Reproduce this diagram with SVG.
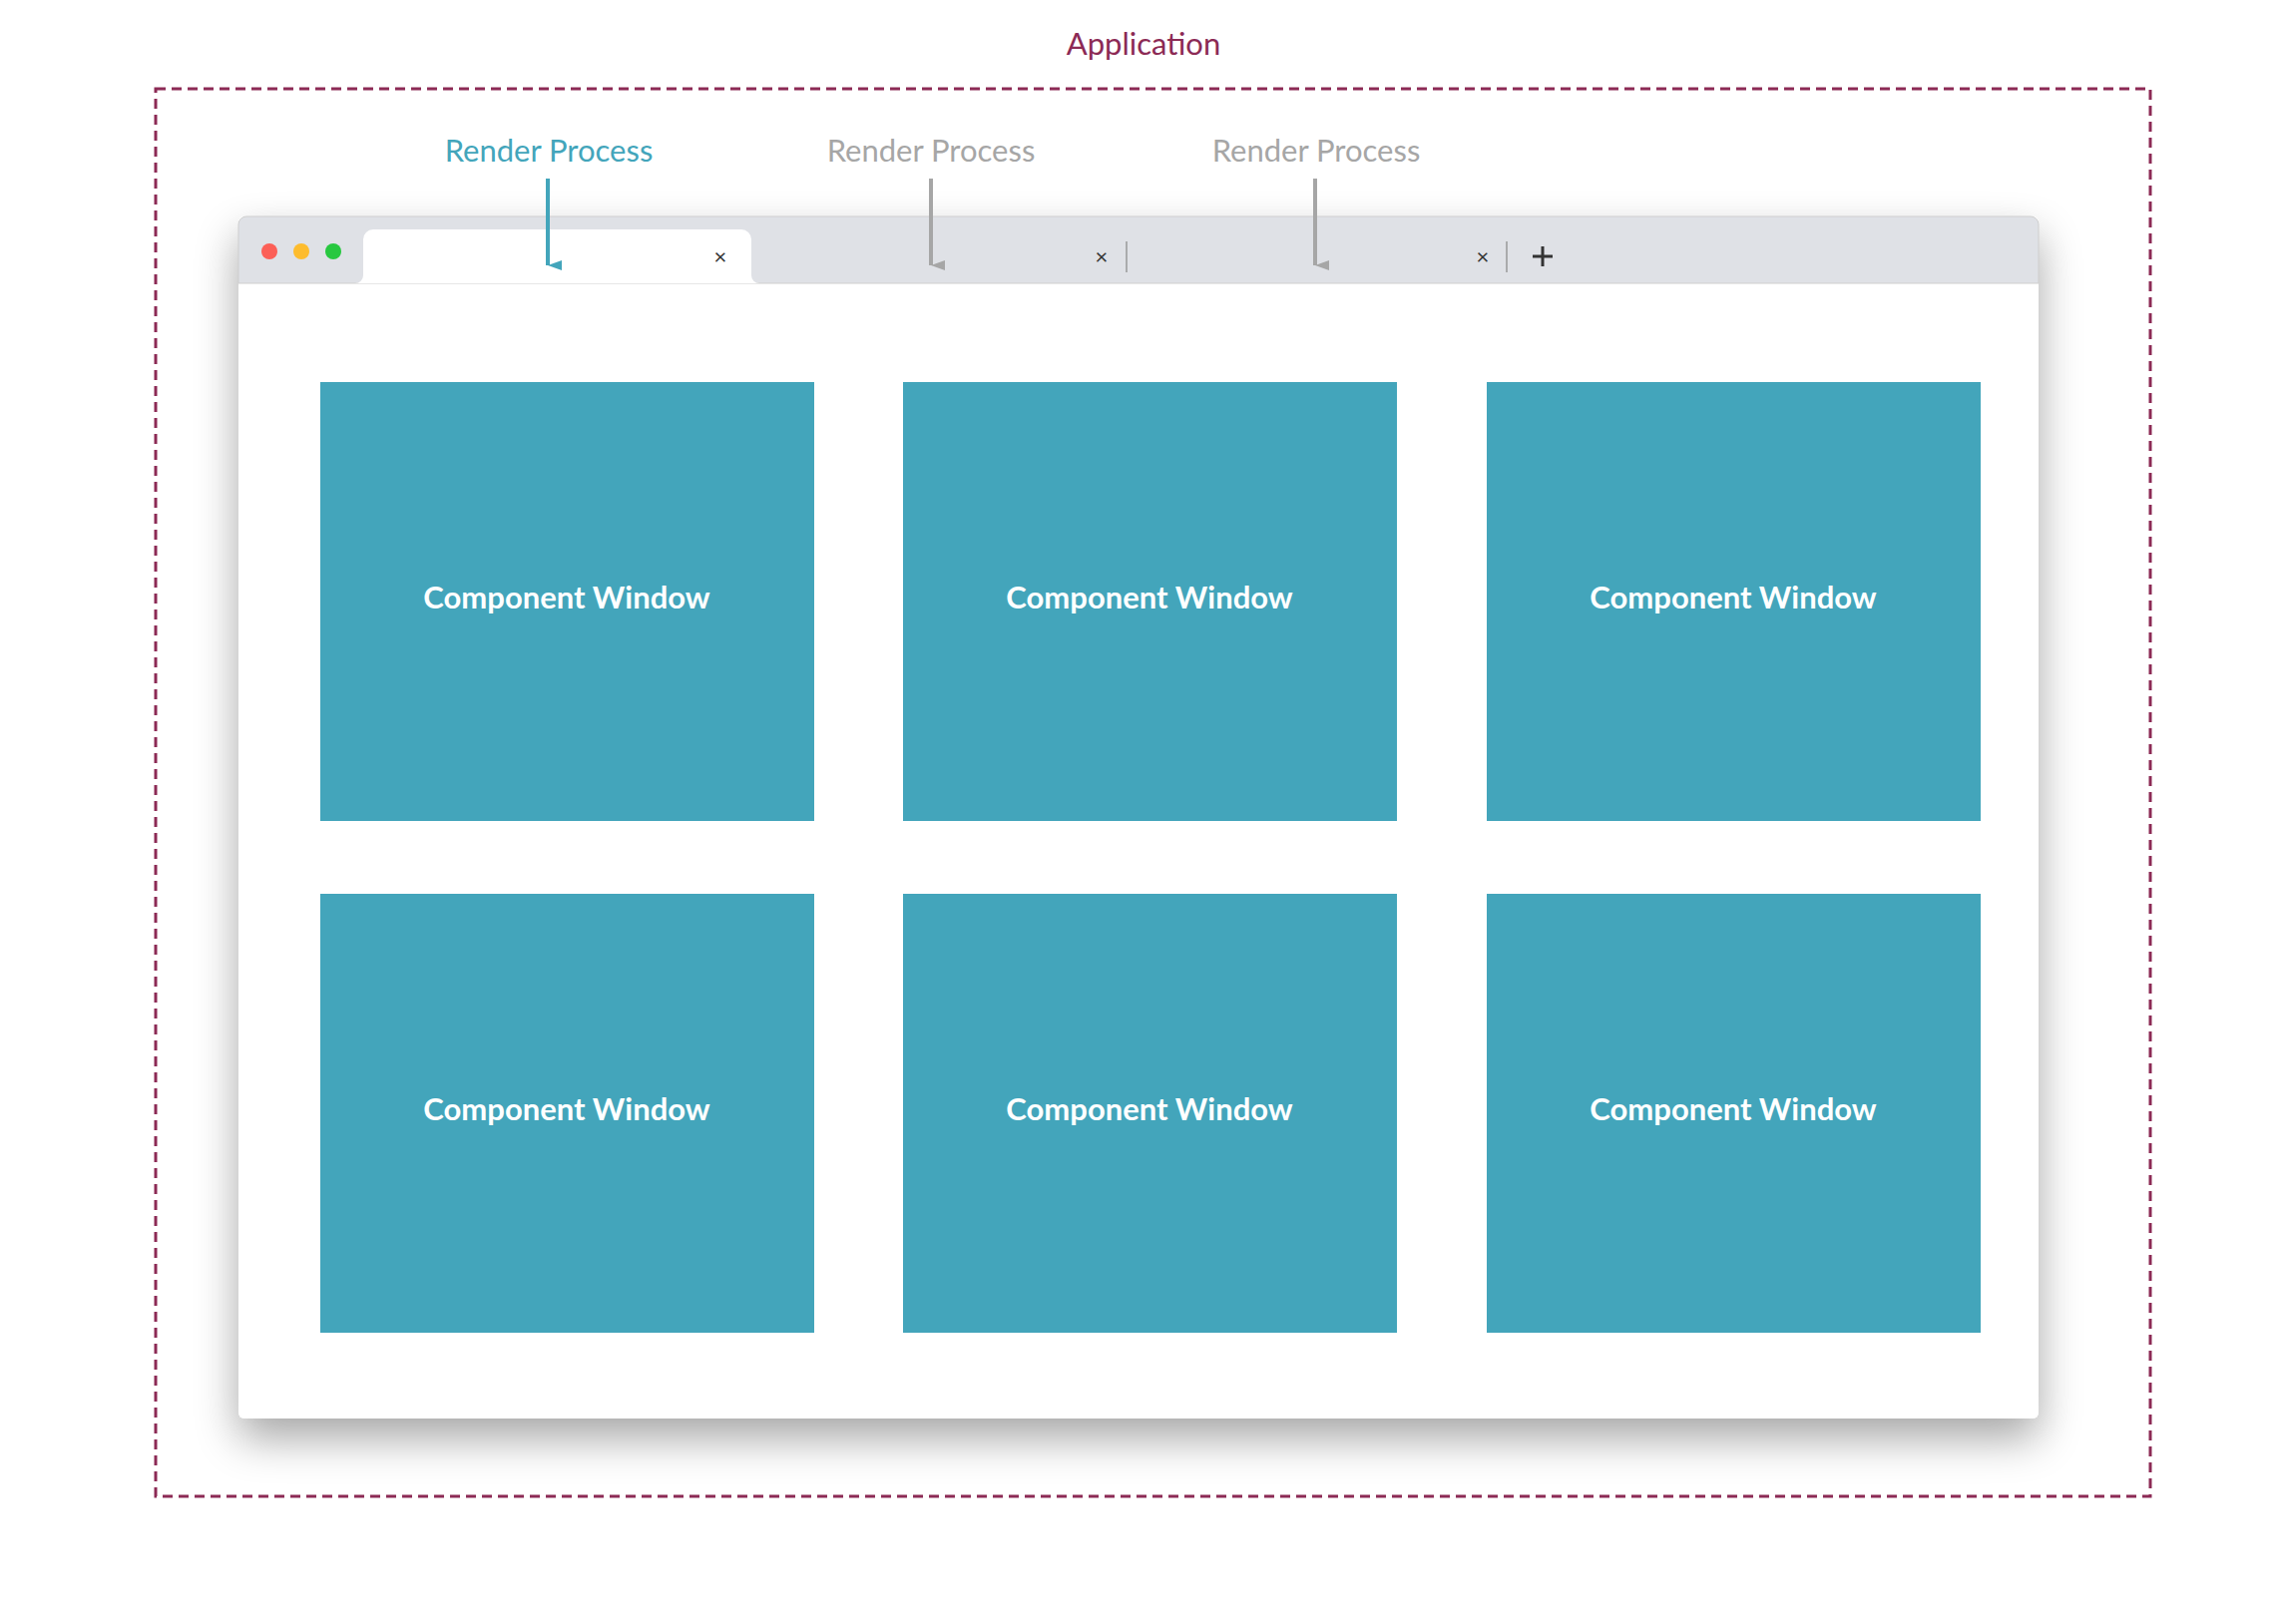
<svg xmlns="http://www.w3.org/2000/svg" width="2290" height="1628" viewBox="0 0 2290 1628">
<defs>
<filter id="sh" x="-10%" y="-10%" width="120%" height="125%"><feGaussianBlur in="SourceAlpha" stdDeviation="22"/><feOffset dy="20"/><feComponentTransfer><feFuncA type="linear" slope="0.35"/></feComponentTransfer><feMerge><feMergeNode/><feMergeNode in="SourceGraphic"/></feMerge></filter>
<marker id="ab" markerWidth="10" markerHeight="14" refX="5" refY="14" orient="auto" markerUnits="userSpaceOnUse" viewBox="0 0 10 14"><path d="M0,0 L10,0 L5,14 Z" fill="#43a5bb"/></marker>
<marker id="ag" markerWidth="10" markerHeight="14" refX="5" refY="14" orient="auto" markerUnits="userSpaceOnUse" viewBox="0 0 10 14"><path d="M0,0 L10,0 L5,14 Z" fill="#a6a6a6"/></marker>
</defs>
<style>
text{font-family:Lato,"Open Sans",sans-serif}
.lbl{font-size:31px;text-anchor:middle}
.cw{fill:#43a5bb}
.cwt{fill:#fff;font-size:31px;font-weight:bold;text-anchor:middle}
.x{font-size:22px;fill:#333;text-anchor:middle}
</style>
<g id="application">
<rect x="156" y="89" width="1999" height="1411" fill="none" stroke="#8c2a55" stroke-width="3" stroke-dasharray="10,6"/>
<text class="lbl" x="1146" y="55" fill="#8c2a55">Application</text>
</g>
<g id="browser">
<rect x="239" y="217" width="1804" height="1205" rx="6" fill="#fff" filter="url(#sh)"/>
<path d="M239,284 V225 a8,8 0 0 1 8,-8 H2035 a8,8 0 0 1 8,8 V284 Z" fill="#dfe1e6" stroke="#cfcfcf" stroke-width="1"/>
<path d="M356,284 a8,8 0 0 0 8,-8 V240 a10,10 0 0 1 10,-10 H743 a10,10 0 0 1 10,10 V276 a8,8 0 0 0 8,8 Z" fill="#fff"/>
<circle cx="270" cy="252" r="8" fill="#fc5f57"/>
<circle cx="302" cy="252" r="8" fill="#fdbc2e"/>
<circle cx="334" cy="252" r="8" fill="#28c840"/>
<text class="x" x="722" y="265">×</text>
<text class="x" x="1104" y="265">×</text>
<text class="x" x="1486" y="265">×</text>
<line x1="1129" y1="242" x2="1129" y2="273" stroke="#999" stroke-width="1.5"/>
<line x1="1510" y1="242" x2="1510" y2="273" stroke="#999" stroke-width="1.5"/>
<path d="M1546,247 v20 M1536,257 h20" stroke="#333" stroke-width="3"/>
</g>
<g id="labels">
<text class="lbl" x="550" y="162" fill="#43a5bb">Render Process</text>
<text class="lbl" x="933" y="162" fill="#a6a6a6">Render Process</text>
<text class="lbl" x="1319" y="162" fill="#a6a6a6">Render Process</text>
</g>
<g id="connectors">
<line x1="549" y1="179" x2="549" y2="266" stroke="#43a5bb" stroke-width="4" marker-end="url(#ab)"/>
<line x1="933" y1="179" x2="933" y2="266" stroke="#a6a6a6" stroke-width="4" marker-end="url(#ag)"/>
<line x1="1318" y1="179" x2="1318" y2="266" stroke="#a6a6a6" stroke-width="4" marker-end="url(#ag)"/>
</g>
<g id="cw1"><rect class="cw" x="321" y="383" width="495" height="440"/><text class="cwt" x="568" y="610">Component Window</text></g>
<g id="cw2"><rect class="cw" x="905" y="383" width="495" height="440"/><text class="cwt" x="1152" y="610">Component Window</text></g>
<g id="cw3"><rect class="cw" x="1490" y="383" width="495" height="440"/><text class="cwt" x="1737" y="610">Component Window</text></g>
<g id="cw4"><rect class="cw" x="321" y="896" width="495" height="440"/><text class="cwt" x="568" y="1123">Component Window</text></g>
<g id="cw5"><rect class="cw" x="905" y="896" width="495" height="440"/><text class="cwt" x="1152" y="1123">Component Window</text></g>
<g id="cw6"><rect class="cw" x="1490" y="896" width="495" height="440"/><text class="cwt" x="1737" y="1123">Component Window</text></g>
</svg>
